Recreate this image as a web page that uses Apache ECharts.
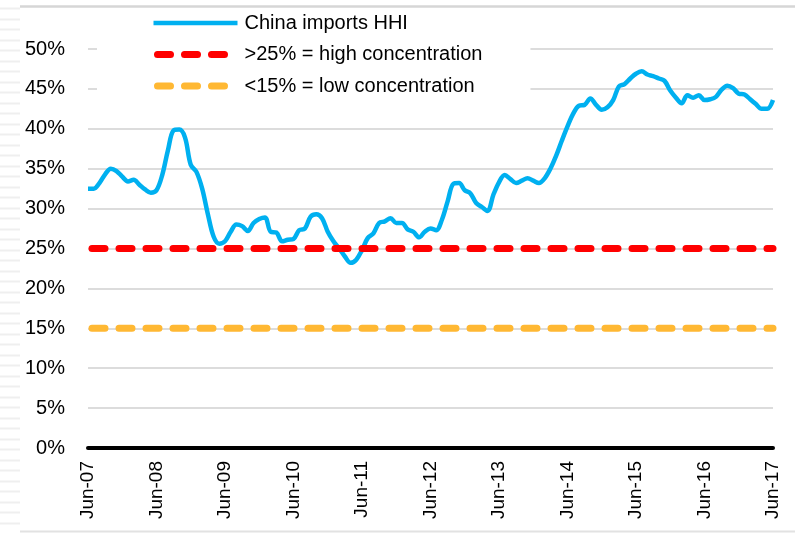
<!DOCTYPE html>
<html>
<head>
<meta charset="utf-8">
<script src="https://cdn.jsdelivr.net/npm/echarts@6/dist/echarts.min.js"></script>
<style>
html,body{margin:0;padding:0;background:#fff;}
#chart{width:795px;height:533px;}
</style>
</head>
<body>
<div id="chart"></div>
<script>
// ---- Data ----
const monthNames = ['Jan','Feb','Mar','Apr','May','Jun','Jul','Aug','Sep','Oct','Nov','Dec'];
const startYear = 2007;
const startMonthIndex = 5; // June
const monthCount = 121;     // Jun-07 .. Jun-17

// China imports HHI (%) monthly, Jun-07 .. Jun-17
const hhiValues = [
  32.5, 32.5, 33.2, 34.3, 35.0, 34.7, 34.0, 33.4, 33.6, 33.0, 32.4, 32.0,
  32.3, 34.2, 37.3, 39.8, 39.9, 38.9, 35.5, 34.6, 32.5, 29.3, 26.5, 25.6,
  25.9, 27.1, 28.0, 27.8, 27.2, 28.2, 28.7, 28.9, 27.1, 27.0, 25.9, 26.1,
  26.2, 27.3, 27.5, 29.0, 29.3, 28.8, 27.1, 25.9, 25.0, 24.0, 23.2, 23.6,
  24.8, 26.3, 26.9, 28.2, 28.4, 28.8, 28.2, 28.2, 27.4, 27.1, 26.4, 27.1,
  27.5, 27.3, 28.6, 30.9, 33.1, 33.2, 32.3, 31.9, 30.7, 30.2, 29.7, 31.7,
  33.3, 34.2, 33.7, 33.2, 33.5, 33.8, 33.5, 33.2, 33.8, 35.0, 36.6, 38.5,
  40.3, 41.9, 42.9, 43.0, 43.8, 43.0, 42.4, 42.7, 43.6, 45.3, 45.6, 46.3,
  46.9, 47.2, 46.8, 46.6, 46.3, 46.0, 44.8, 43.9, 43.2, 44.2, 43.9, 44.2,
  43.6, 43.7, 44.0, 44.9, 45.4, 45.1, 44.4, 44.3, 43.7, 43.1, 42.5, 42.5,
  43.6
];
const highThreshold = 25; // >25% = high concentration
const lowThreshold = 15;  // <15% = low concentration
const yTicks = [0, 5, 10, 15, 20, 25, 30, 35, 40, 45, 50];

const seriesNames = ['China imports HHI', '>25% = high concentration', '<15% = low concentration'];

// ---- Build categories ----
const categories = [];
for (let i = 0; i < monthCount; i++) {
  const m = (startMonthIndex + i) % 12;
  const y = startYear + Math.floor((startMonthIndex + i) / 12);
  categories.push(monthNames[m] + '-' + String(y % 100).padStart(2, '0'));
}
const firstCat = categories[0];
const lastCat = categories[categories.length - 1];

// ---- Decorative frame ----
const graphics = [
  {type:'line', z:100, shape:{x1:20, y1:6.5, x2:795, y2:6.5}, style:{stroke:'#d6d6d6', lineWidth:2.5}, silent:true},
  {type:'line', z:100, shape:{x1:20, y1:531.5, x2:795, y2:531.5}, style:{stroke:'#e2e2e2', lineWidth:2}, silent:true}
];
for (let yy = 8; yy < 533; yy += 10.5) {
  graphics.push({type:'line', z:100, shape:{x1:0, y1:Math.round(yy)+0.5, x2:20, y2:Math.round(yy)+0.5}, style:{stroke:'#efefef', lineWidth:2}, silent:true});
}

const FONT = '"Liberation Sans", Arial, sans-serif';

const chart = echarts.init(document.getElementById('chart'), null, {renderer:'canvas'});
chart.setOption({
  animation: false,
  backgroundColor: '#ffffff',
  graphic: graphics,
  grid: {left: 88, right: 22, top: 49, bottom: 85, containLabel: false},
  legend: {
    orient: 'vertical',
    left: 97, top: 0,
    padding: [13, 48, 4, 53],
    backgroundColor: '#ffffff',
    itemWidth: 84, itemHeight: 20, itemGap: 11.5,
    lineStyle: {width: 'inherit', type: 'inherit', cap: 'inherit', dashOffset: 'inherit'},
    itemStyle: {opacity: 0},
    textStyle: {fontSize: 20, color: '#000', fontFamily: FONT, padding: [0, 0, 0, 2]},
    data: seriesNames
  },
  xAxis: {
    type: 'category',
    data: categories,
    boundaryGap: false,
    axisLine: {show: true, lineStyle: {color: '#000', width: 4}},
    axisTick: {show: false},
    axisLabel: {
      interval: 11, rotate: 90, margin: 13,
      fontSize: 19, color: '#000', fontFamily: FONT
    },
    splitLine: {show: false}
  },
  yAxis: {
    type: 'value',
    min: yTicks[0], max: yTicks[yTicks.length - 1], interval: 5,
    axisLine: {show: false},
    axisTick: {show: false},
    axisLabel: {formatter: '{value}%', fontSize: 20, color: '#000', fontFamily: FONT, margin: 23},
    splitLine: {show: true, lineStyle: {color: '#d0d0d0', width: 1.5}}
  },
  series: [
    {
      name: seriesNames[0], type: 'line', data: hhiValues,
      smooth: 0.35, symbol: 'none',
      lineStyle: {color: '#00B0F0', width: 4.5},
      itemStyle: {color: '#00B0F0'},
      z: 3
    },
    {
      name: seriesNames[1], type: 'line',
      data: [[firstCat, highThreshold], [lastCat, highThreshold]],
      symbol: 'none',
      lineStyle: {color: '#FF0000', width: 7, type: [13, 14], dashOffset: -4, cap: 'round'},
      itemStyle: {color: '#FF0000'},
      z: 4
    },
    {
      name: seriesNames[2], type: 'line',
      data: [[firstCat, lowThreshold], [lastCat, lowThreshold]],
      symbol: 'none',
      lineStyle: {color: '#FFB833', width: 7, type: [13, 14], dashOffset: -4, cap: 'round'},
      itemStyle: {color: '#FFB833'},
      z: 4
    }
  ]
});
</script>
</body>
</html>
